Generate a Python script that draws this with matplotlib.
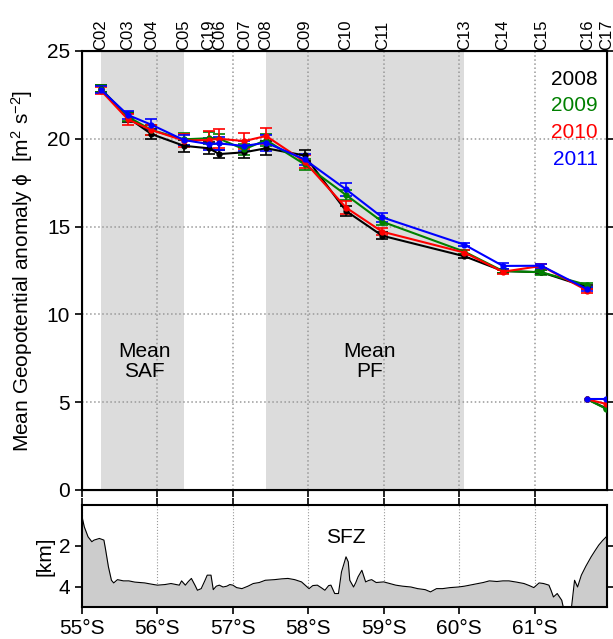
import matplotlib
matplotlib.use('Agg')
import matplotlib.pyplot as plt
import numpy as np

plt.rcParams['font.family'] = ['Liberation Sans', 'DejaVu Sans']
plt.rcParams['mathtext.default'] = 'regular'

# station names and latitudes (deg S)
stations = ['C02', 'C03', 'C04', 'C05', 'C19', 'C06', 'C07', 'C08',
            'C09', 'C10', 'C11', 'C13', 'C14', 'C15', 'C16', 'C17']
st_lat = [55.25, 55.61, 55.92, 56.35, 56.68, 56.82, 57.15, 57.44,
          57.95, 58.50, 58.98, 60.07, 60.58, 61.09, 61.70, 61.95]

# mean geopotential anomaly per year (stations C02..C16)
phi_2008 = [22.85, 21.2, 20.27, 19.6, 19.46, 19.13, 19.23, 19.46, 19.05, 15.89, 14.48, 13.31, 12.47, 12.40, 11.55]
phi_2009 = [22.85, 21.25, 20.5, 19.97, 20.03, 20.0, 19.4, 19.93, 18.55, 16.8, 15.28, 13.57, 12.47, 12.40, 11.67]
phi_2010 = [22.75, 21.1, 20.5, 19.9, 19.93, 20.0, 19.87, 20.16, 18.7, 16.08, 14.71, 13.52, 12.43, 12.76, 11.35]
phi_2011 = [22.8, 21.35, 20.8, 19.93, 19.7, 19.74, 19.59, 19.78, 18.83, 17.12, 15.53, 13.97, 12.76, 12.77, 11.43]

err_2008 = [0.2, 0.25, 0.3, 0.35, 0.35, 0.25, 0.3, 0.4, 0.3, 0.3, 0.2, 0.12, 0.12, 0.12, 0.12]
err_2009 = [0.2, 0.25, 0.3, 0.35, 0.35, 0.3, 0.3, 0.35, 0.3, 0.3, 0.2, 0.12, 0.12, 0.15, 0.12]
err_2010 = [0.2, 0.3, 0.3, 0.35, 0.5, 0.55, 0.45, 0.45, 0.35, 0.35, 0.2, 0.12, 0.12, 0.12, 0.12]
err_2011 = [0.2, 0.25, 0.3, 0.3, 0.35, 0.35, 0.3, 0.45, 0.3, 0.35, 0.25, 0.1, 0.15, 0.12, 0.12]

# shallow segment C16-C17 (shallower reference)
low_lat = [61.70, 61.95]
low_2008 = [5.16, 4.65]
low_2009 = [5.16, 4.62]
low_2010 = [5.16, 4.9]
low_2011 = [5.16, 5.16]

years = ['2008', '2009', '2010', '2011']
colors = ['black', 'green', 'red', 'blue']

# bathymetry along section
bathy_lat = [55.0, 55.03, 55.08, 55.13, 55.16, 55.23, 55.29, 55.31, 55.35, 55.39, 55.42, 55.47,
             55.55, 55.62, 55.7, 55.83, 55.92, 56.0, 56.1, 56.18, 56.29, 56.32, 56.37, 56.41,
             56.45, 56.5, 56.53, 56.58, 56.63, 56.66, 56.71, 56.74, 56.78, 56.82, 56.87, 56.92,
             56.96, 57.0, 57.05, 57.12, 57.2, 57.27, 57.35, 57.43, 57.55, 57.65, 57.73, 57.82,
             57.91, 58.01, 58.06, 58.12, 58.17, 58.22, 58.27, 58.3, 58.35, 58.4, 58.44, 58.48,
             58.5, 58.53, 58.55, 58.6, 58.63, 58.66, 58.71, 58.76, 58.8, 58.84, 58.9, 59.0,
             59.08, 59.16, 59.25, 59.36, 59.45, 59.55, 59.62, 59.7, 59.78, 59.88, 59.99, 60.07,
             60.14, 60.25, 60.32, 60.4, 60.5, 60.58, 60.66, 60.76, 60.86, 60.93, 60.99, 61.06,
             61.12, 61.19, 61.22, 61.25, 61.3, 61.36, 61.38, 61.49, 61.53, 61.57, 61.62, 61.68,
             61.75, 61.8, 61.85, 61.9, 61.95]
bathy_km = [0.57, 1.07, 1.56, 1.8, 1.72, 1.64, 1.72, 2.13, 3.03, 3.69, 3.82, 3.66,
            3.72, 3.72, 3.78, 3.82, 3.88, 3.93, 3.9, 3.85, 3.93, 3.72, 3.93, 3.75,
            3.6, 3.95, 4.18, 4.1, 3.7, 3.44, 3.44, 4.15, 3.98, 3.93, 4.02, 3.98,
            3.9, 3.93, 4.05, 4.1, 3.98, 3.85, 3.8, 3.69, 3.66, 3.62, 3.6, 3.66,
            3.77, 4.1, 3.95, 3.93, 4.05, 4.18, 3.95, 3.93, 4.34, 4.34, 3.28, 2.79,
            2.54, 2.79, 3.69, 4.02, 3.8, 3.52, 3.2, 3.77, 3.7, 3.66, 3.8, 3.77,
            3.85, 3.93, 3.98, 4.02, 4.1, 4.15, 4.26, 4.1, 4.1, 4.05, 4.02, 3.98,
            3.93, 3.85, 3.8, 3.72, 3.75, 3.72, 3.72, 3.78, 3.85, 3.95, 4.05, 3.82,
            3.85, 3.93, 4.2, 4.51, 4.34, 4.67, 5.0, 5.0, 3.69, 4.02, 3.44, 3.0,
            2.54, 2.25, 1.97, 1.75, 1.56]

fig = plt.figure(figsize=(6.13, 6.39), dpi=100)
ax = fig.add_axes([0.1338, 0.2332, 0.8564, 0.687])
ax2 = fig.add_axes([0.1338, 0.0501, 0.8564, 0.1596])

xmin, xmax = 55.0, 61.96

# front regions
ax.axvspan(st_lat[0], st_lat[3], color='#dcdcdc', zorder=0, lw=0)
ax.axvspan(st_lat[7], st_lat[11], color='#dcdcdc', zorder=0, lw=0)

series = [phi_2008, phi_2009, phi_2010, phi_2011]
errs = [err_2008, err_2009, err_2010, err_2011]
lows = [low_2008, low_2009, low_2010, low_2011]
for yy, ee, lo, c in zip(series, errs, lows, colors):
    ax.errorbar(st_lat[:15], yy, yerr=ee, color=c, marker='o', ms=3.5, lw=1.5,
                elinewidth=1.2, capsize=4, capthick=1.2, zorder=3)
    ax.plot(low_lat, lo, color=c, marker='o', ms=3.5, lw=1.5, zorder=3)

ax.set_xlim(xmin, xmax)
ax.set_ylim(0, 25)
ax.set_yticks([0, 5, 10, 15, 20, 25])
ax.set_xticks(range(55, 62))
ax.tick_params(axis='both', direction='out', labelsize=15, top=True, right=True,
               labelbottom=False, length=5, width=1.2)
ax.grid(True, linestyle=':', color='#999999', lw=1.1)
ax.set_axisbelow(True)
ax.set_ylabel('Mean Geopotential anomaly ϕ  [m$^2$ s$^{-2}$]', fontsize=15)
ax.yaxis.set_label_coords(-0.09, 0.5)
for s in ax.spines.values():
    s.set_linewidth(1.5)

for i, (yr, c) in enumerate(zip(years, colors)):
    ax.text(0.983, 0.936 - i * 0.0613, yr, color=c, fontsize=15, ha='right', va='center',
            transform=ax.transAxes)

ax.text(55.83, 7.3, 'Mean\nSAF', fontsize=15, ha='center', va='center', linespacing=1.05)
ax.text(58.81, 7.3, 'Mean\nPF', fontsize=15, ha='center', va='center', linespacing=1.05)

# station labels on top
axt = ax.twiny()
axt.set_xlim(xmin, xmax)
axt.set_xticks(st_lat)
axt.set_xticklabels(stations, rotation=90, fontsize=12)
axt.tick_params(axis='x', length=0, pad=1)

# bathymetry panel
ax2.fill_between(bathy_lat, bathy_km, 5.2, color='#cccccc', lw=0)
ax2.plot(bathy_lat, bathy_km, color='black', lw=0.8)
ax2.set_xlim(xmin, xmax)
ax2.set_ylim(5, 0)
ax2.set_yticks([2, 4])
ax2.set_xticks(range(55, 62))
ax2.set_xticklabels(['%d°S' % v for v in range(55, 62)])
ax2.tick_params(axis='both', direction='out', labelsize=15, top=True, right=True,
                length=5, width=1.2)
ax2.grid(True, axis='x', linestyle=':', color='#999999', lw=0.8)
ax2.set_axisbelow(True)
ax2.set_ylabel('[km]', fontsize=15)
ax2.yaxis.set_label_coords(-0.052, 0.5)
ax2.text(58.5, 1.6, 'SFZ', fontsize=15, ha='center', va='center')
for s in ax2.spines.values():
    s.set_linewidth(1.5)

fig.savefig('out.png', dpi=100)
